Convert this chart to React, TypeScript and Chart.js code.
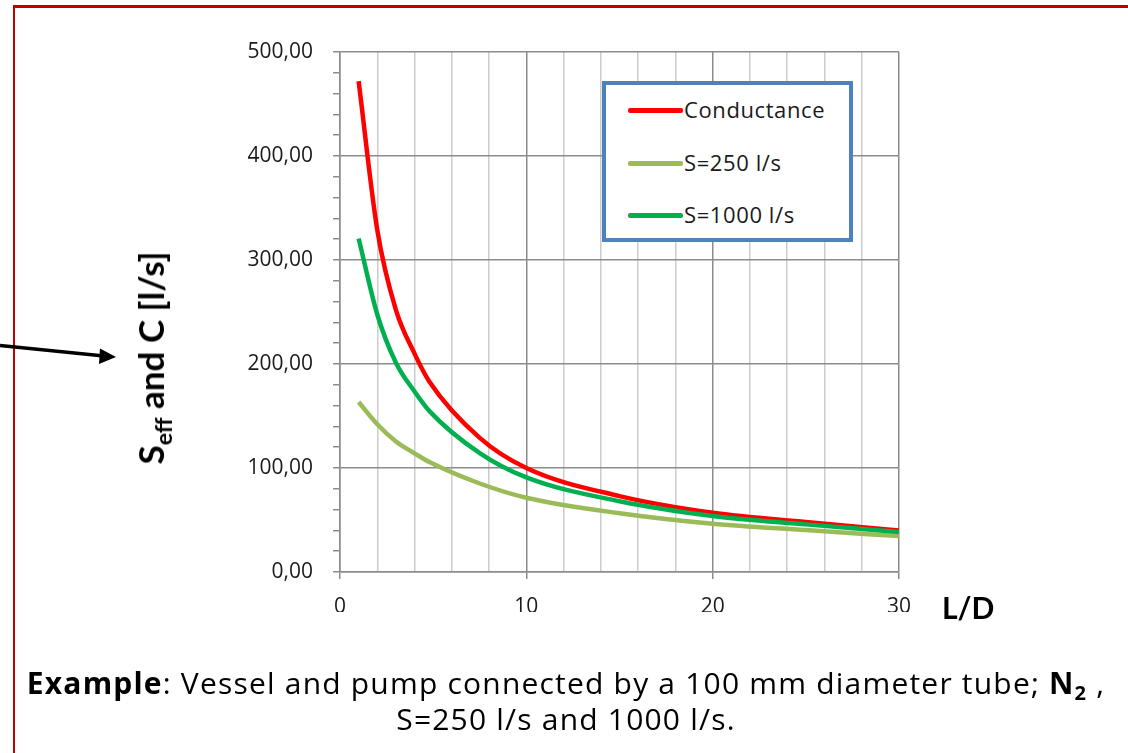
import React, { useEffect, useRef } from 'react';
import { Chart, registerables } from 'chart.js';

Chart.register(...registerables);

const ldValues = [1, 2, 3, 4, 4.8, 7.5, 10, 15, 20, 25, 30];
const conductance = [472, 329, 252, 210, 183, 129, 100, 73, 57, 48, 40];
const seff250 = [163.4, 142.0, 125.5, 114.1, 105.7, 85.1, 71.4, 56.5, 46.4, 40.3, 34.5];
const seff1000 = [320.7, 247.6, 201.3, 173.6, 154.7, 114.3, 90.9, 68.0, 53.9, 45.8, 38.5];
const seriesLabels = ['Conductance', 'S=250 l/s', 'S=1000 l/s'];
const seriesColors = ['#FF0000', '#9BBB59', '#00B050'];
const xLabelValues = [0, 10, 20, 30];
const yLabelValues = [0, 100, 200, 300, 400, 500];

const W = 1128;
const H = 753;
const PLOT_LEFT = 340;
const PLOT_RIGHT = 899;
const PLOT_TOP = 52;
const PLOT_BOTTOM = 572;
const X_AXIS_H = 40;

const tickFont = { family: '"Open Sans", sans-serif', size: 21 };

function App() {
  const canvasRef = useRef<HTMLCanvasElement | null>(null);

  useEffect(() => {
    const canvas = canvasRef.current;
    if (!canvas) return;
    const series = [conductance, seff250, seff1000];
    const orders = [2, 1, 0];
    const chart = new Chart(canvas, {
      type: 'line',
      data: {
        datasets: series.map((vals, i) => ({
          label: seriesLabels[i],
          data: vals.map((v, j) => ({ x: ldValues[j], y: v })),
          borderColor: seriesColors[i],
          backgroundColor: seriesColors[i],
          borderWidth: 4.5,
          pointRadius: 0,
          fill: false,
          cubicInterpolationMode: 'monotone' as const,
          order: orders[i],
        })),
      },
      options: {
        animation: false,
        responsive: false,
        maintainAspectRatio: false,
        layout: {
          padding: {
            left: 0,
            top: PLOT_TOP,
            right: W - PLOT_RIGHT,
            bottom: H - PLOT_BOTTOM - X_AXIS_H,
          },
        },
        plugins: {
          legend: { display: false },
          tooltip: { enabled: false },
          title: { display: false },
        },
        scales: {
          x: {
            type: 'linear',
            min: 0,
            max: 30,
            afterFit: (scale: any) => {
              scale.height = X_AXIS_H;
            },
            border: { color: '#8c8c8c', width: 1.5 },
            grid: {
              lineWidth: 1.5,
              tickLength: 7,
              color: (ctx: any) =>
                ctx.tick && xLabelValues.includes(ctx.tick.value) ? '#8c8c8c' : '#cccccc',
              tickColor: (ctx: any) =>
                ctx.tick && xLabelValues.includes(ctx.tick.value) ? '#8c8c8c' : 'rgba(0,0,0,0)',
            },
            ticks: {
              stepSize: 2,
              autoSkip: false,
              maxRotation: 0,
              padding: 15,
              color: '#1a1a1a',
              font: tickFont,
              callback: (v: any) => (xLabelValues.includes(Number(v)) ? String(v) : ''),
            },
          },
          y: {
            type: 'linear',
            min: 0,
            max: 500,
            afterFit: (scale: any) => {
              scale.width = PLOT_LEFT;
            },
            border: { color: '#8c8c8c', width: 1.5 },
            grid: {
              lineWidth: 1.5,
              tickLength: 7,
              color: (ctx: any) =>
                ctx.tick && yLabelValues.includes(ctx.tick.value) ? '#8c8c8c' : 'rgba(0,0,0,0)',
              tickColor: '#8c8c8c',
            },
            ticks: {
              stepSize: 20,
              autoSkip: false,
              padding: 20,
              color: '#1a1a1a',
              font: tickFont,
              callback: (v: any) =>
                yLabelValues.includes(Number(v)) ? Number(v).toFixed(2).replace('.', ',') : '',
            },
          },
        },
      },
    });
    return () => chart.destroy();
  }, []);

  const legendTop = [110, 163, 215];

  return (
    <div
      style={{
        position: 'fixed',
        left: 0,
        top: 0,
        width: W,
        height: H,
        overflow: 'hidden',
        background: '#ffffff',
      }}
    >
      <div
        style={{
          position: 'absolute',
          left: 13,
          top: 5,
          width: 1300,
          height: 900,
          borderLeft: '2px solid #C00000',
          borderTop: '3px solid #C00000',
        }}
      />
      <canvas
        ref={canvasRef}
        width={W}
        height={H}
        style={{ position: 'absolute', left: 0, top: 0, width: W, height: H }}
      />
      {/* legend */}
      <div
        style={{
          position: 'absolute',
          left: 602,
          top: 81,
          width: 251,
          height: 161,
          boxSizing: 'border-box',
          border: '4.5px solid #4F81BD',
          background: '#ffffff',
        }}
      />
      {seriesLabels.map((lab, i) => (
        <React.Fragment key={lab}>
          <div
            style={{
              position: 'absolute',
              left: 628,
              top: legendTop[i] - 2,
              width: 55,
              height: 4.5,
              borderRadius: 2,
              background: seriesColors[i],
            }}
          />
          <div
            style={{
              position: 'absolute',
              left: 684,
              top: legendTop[i] - 16,
              fontFamily: '"Open Sans", sans-serif',
              fontSize: 22,
              letterSpacing: 0.6,
              lineHeight: '30px',
              color: '#1a1a1a',
              whiteSpace: 'nowrap',
            }}
          >
            {lab}
          </div>
        </React.Fragment>
      ))}
      {/* arrow */}
      <svg
        width={130}
        height={30}
        style={{ position: 'absolute', left: 0, top: 340 }}
      >
        <line x1={0} y1={5.5} x2={104} y2={16} stroke="#000" strokeWidth={3.5} />
        <polygon points="116,17 100,8.5 99,24" fill="#000" />
      </svg>
      {/* y axis title */}
      <div
        style={{
          position: 'absolute',
          left: 150,
          top: 358,
          transform: 'translate(-50%, -50%) rotate(-90deg)',
          fontFamily: 'Lato, sans-serif',
          fontWeight: 'bold',
          fontSize: 35,
          whiteSpace: 'nowrap',
          color: '#000',
        }}
      >
        S<sub style={{ fontSize: 23, verticalAlign: '-8px', lineHeight: 0 }}>eff</sub> and C [l/s]
      </div>
      {/* x axis title */}
      <div
        style={{
          position: 'absolute',
          left: 942,
          top: 588,
          fontFamily: 'Lato, sans-serif',
          fontWeight: 'bold',
          fontSize: 30,
          lineHeight: '38px',
          color: '#000',
        }}
      >
        L/D
      </div>
      {/* caption */}
      <div
        style={{
          position: 'absolute',
          left: 0,
          width: 1132,
          top: 665,
          textAlign: 'center',
          fontFamily: '"Open Sans", sans-serif',
          fontSize: 30,
          letterSpacing: 1.2,
          lineHeight: '36px',
          color: '#000',
          whiteSpace: 'nowrap',
        }}
      >
        <div>
          <b>Example</b>: Vessel and pump connected by a 100 mm diameter tube; <b>N</b>
          <sub style={{ fontWeight: 'bold', fontSize: 20, verticalAlign: '-6px', lineHeight: 0 }}>2</sub> ,
        </div>
        <div>S=250 l/s and 1000 l/s.</div>
      </div>
    </div>
  );
}

export default App;
